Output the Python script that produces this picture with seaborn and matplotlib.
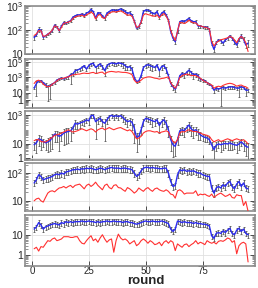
import numpy as np
import matplotlib
matplotlib.use("Agg")
import matplotlib.pyplot as plt
import matplotlib.ticker as mticker
import seaborn as sns

# ---- data ----
rounds = np.arange(1, 96)

p1_blue = [49, 63, 107, 100, 50, 58, 68, 79, 95, 162,
           138, 93, 148, 204, 191, 224, 245, 339, 389, 427,
           427, 468, 407, 501, 562, 724, 589, 309, 525, 501,
           389, 309, 500, 589, 676, 676, 646, 676, 759, 676,
           589, 500, 525, 427, 245, 120, 138, 224, 589, 676,
           676, 589, 500, 468, 589, 339, 500, 589, 427, 263,
           87, 46, 33, 87, 224, 245, 224, 263, 309, 245,
           224, 224, 148, 148, 138, 132, 132, 107, 29, 16,
           30, 39, 37, 29, 39, 46, 58, 46, 33, 24,
           42, 58, 42, 24, 29]
p1_red = [60, 70, 95, 95, 55, 58, 66, 80, 100, 150,
          140, 95, 130, 190, 200, 215, 230, 300, 350, 380,
          390, 420, 360, 430, 480, 560, 480, 290, 400, 450,
          330, 300, 420, 500, 560, 580, 560, 600, 620, 560,
          480, 420, 420, 380, 230, 130, 140, 210, 420, 480,
          440, 420, 380, 380, 430, 320, 420, 480, 380, 250,
          100, 55, 38, 90, 210, 200, 190, 210, 260, 220,
          200, 200, 160, 150, 140, 130, 125, 110, 35, 22,
          30, 35, 40, 42, 45, 48, 55, 50, 40, 30,
          45, 55, 45, 30, 13]
p1_cv = [0.2, 0.12, 0.25, 0.12, 0.12, 0.12, 0.1, 0.1, 0.12, 0.15,
         0.12, 0.1, 0.12, 0.12, 0.1, 0.1, 0.12, 0.12, 0.1, 0.12,
         0.1, 0.12, 0.15, 0.12, 0.1, 0.12, 0.1, 0.12, 0.12, 0.1,
         0.1, 0.12, 0.12, 0.1, 0.1, 0.1, 0.12, 0.1, 0.1, 0.1,
         0.12, 0.12, 0.15, 0.12, 0.1, 0.1, 0.1, 0.12, 0.12, 0.1,
         0.1, 0.12, 0.12, 0.15, 0.12, 0.12, 0.15, 0.12, 0.1, 0.12,
         0.15, 0.15, 0.2, 0.12, 0.1, 0.12, 0.12, 0.1, 0.12, 0.12,
         0.1, 0.12, 0.15, 0.15, 0.12, 0.12, 0.15, 0.15, 0.2, 0.2,
         0.15, 0.12, 0.2, 0.15, 0.12, 0.12, 0.12, 0.15, 0.2, 0.2,
         0.15, 0.15, 0.2, 0.25, 0.3]

p2_blue = [39, 160, 360, 360, 210, 107, 58, 78, 132, 210,
           450, 620, 830, 620, 1000, 1200, 2300, 2800, 7800, 9500,
           13000, 21000, 36000, 13000, 36000, 62000, 74000, 21000, 36000, 62000,
           27000, 7800, 36000, 62000, 83000, 74000, 62000, 83000, 74000, 62000,
           36000, 21000, 27000, 13000, 1000, 300, 360, 1700, 21000, 36000,
           49000, 36000, 27000, 21000, 45000, 7800, 27000, 36000, 13000, 1700,
           160, 58, 28, 160, 1700, 3500, 2300, 4700, 9500, 4700,
           2300, 2800, 1700, 620, 450, 360, 210, 132, 78, 21,
           39, 28, 39, 47, 39, 47, 58, 58, 47, 39,
           39, 58, 47, 21, 21]
p2_red = [160, 360, 440, 300, 130, 78, 58, 69, 130, 210,
          360, 600, 740, 810, 1000, 1200, 1700, 2300, 2300, 2800,
          2800, 3400, 3800, 3400, 3400, 4200, 4700, 3400, 3800, 4700,
          5100, 2800, 4700, 5800, 6300, 5800, 5100, 5800, 5100, 4700,
          4700, 4200, 3400, 2300, 440, 210, 260, 440, 810, 1000,
          1200, 1200, 1000, 810, 740, 600, 740, 810, 1000, 1200,
          210, 78, 38, 130, 1000, 1700, 2300, 2800, 2300, 1700,
          1900, 1700, 1200, 810, 440, 300, 210, 130, 105, 38,
          58, 70, 58, 90, 120, 150, 170, 150, 110, 70,
          90, 100, 70, 58, 38]
p2_cv = [0.3, 0.977, 0.3, 0.3, 0.3, 0.5, 0.987, 0.98, 0.3, 0.3,
         0.3, 0.3, 0.3, 0.3, 0.3, 0.5, 0.94, 0.5, 0.6, 0.5,
         0.5, 0.6, 0.4, 0.5, 0.5, 0.5, 0.4, 0.8, 0.5, 0.4,
         0.5, 0.78, 0.5, 0.4, 0.4, 0.5, 0.4, 0.4, 0.5, 0.7,
         0.7, 0.5, 0.6, 0.7, 0.3, 0.3, 0.3, 0.4, 0.5, 0.5,
         0.5, 0.7, 0.7, 0.5, 0.4, 0.8, 0.6, 0.5, 0.7, 0.5,
         0.5, 0.6, 0.5, 0.4, 0.4, 0.5, 0.6, 0.5, 0.7, 0.6,
         0.7, 0.6, 0.7, 0.4, 0.4, 0.3, 0.3, 0.3, 0.5, 0.6,
         0.4, 0.4, 0.995, 0.4, 0.4, 0.4, 0.4, 0.4, 0.4, 0.4,
         0.94, 0.4, 0.4, 0.82, 0.5]

p3_blue = [8.9, 12, 23, 20, 15, 12, 14, 17, 29, 49,
           44, 34, 40, 58, 68, 74, 83, 126, 280, 240,
           280, 330, 360, 480, 410, 950, 1000, 360, 480, 620,
           360, 280, 480, 810, 1000, 810, 950, 810, 950, 690,
           480, 360, 410, 330, 126, 29, 34, 98, 360, 620,
           560, 480, 410, 360, 480, 195, 360, 480, 280, 98,
           20, 8.9, 6.9, 20, 83, 98, 83, 140, 210, 115,
           83, 98, 68, 44, 34, 29, 26, 20, 8.9, 4.1,
           8.1, 10, 8.9, 10, 11, 10, 12, 10, 8.9, 8.1,
           10, 14, 10, 6.9, 5.9]
p3_red = [17, 20, 20, 15, 14, 14, 17, 23, 29, 40,
          44, 49, 58, 68, 83, 98, 83, 68, 74, 83,
          98, 115, 98, 83, 98, 115, 98, 68, 98, 115,
          130, 98, 115, 140, 115, 98, 115, 130, 140, 115,
          98, 83, 98, 74, 40, 23, 26, 34, 58, 74,
          83, 83, 74, 68, 74, 58, 68, 74, 83, 68,
          29, 15, 12, 20, 58, 74, 68, 83, 98, 83,
          74, 74, 68, 58, 49, 44, 40, 34, 20, 14,
          17, 20, 15, 17, 20, 23, 20, 17, 20, 23,
          20, 17, 20, 15, 10]
p3_cv = [0.6, 0.8, 0.7, 0.8, 0.6, 0.7, 0.8, 0.8, 0.85, 0.7,
         0.7, 0.9, 0.6, 0.85, 0.85, 0.85, 0.8, 0.5, 0.6, 0.5,
         0.5, 0.4, 0.5, 0.4, 0.5, 0.3, 0.3, 0.94, 0.5, 0.4,
         0.5, 0.94, 0.5, 0.4, 0.3, 0.4, 0.3, 0.4, 0.3, 0.5,
         0.5, 0.6, 0.5, 0.7, 0.9, 0.9, 0.7, 0.6, 0.5, 0.4,
         0.4, 0.5, 0.6, 0.5, 0.4, 0.7, 0.6, 0.5, 0.6, 0.7,
         0.85, 0.85, 0.8, 0.6, 0.5, 0.6, 0.6, 0.5, 0.6, 0.7,
         0.7, 0.6, 0.7, 0.6, 0.5, 0.5, 0.5, 0.5, 0.6, 0.88,
         0.6, 0.5, 0.7, 0.6, 0.5, 0.6, 0.7, 0.6, 0.5, 0.7,
         0.6, 0.5, 0.7, 0.8, 0.9]

p4_blue = [44, 57, 87, 76, 57, 62, 66, 70, 76, 87,
           92, 87, 100, 92, 109, 115, 121, 132, 132, 139,
           132, 144, 139, 150, 144, 150, 139, 132, 139, 150,
           144, 132, 144, 150, 160, 150, 150, 150, 144, 150,
           150, 144, 139, 132, 100, 76, 87, 121, 150, 160,
           160, 150, 160, 150, 150, 144, 144, 150, 150, 100,
           50, 33, 36, 87, 132, 121, 132, 115, 121, 115,
           121, 109, 100, 100, 87, 82, 76, 76, 29, 19,
           29, 33, 29, 38, 33, 44, 50, 33, 27, 40,
           50, 33, 44, 29, 27]
p4_red = [10, 11.8, 12.5, 10, 9.0, 13.2, 19, 22, 23, 21,
          25, 29, 30, 33, 29, 33, 36, 30, 36, 38,
          40, 33, 27, 36, 40, 33, 38, 47, 36, 30,
          25, 36, 40, 30, 27, 36, 38, 30, 29, 25,
          22, 30, 27, 23, 19, 22, 29, 25, 22, 27,
          30, 25, 22, 27, 29, 25, 23, 22, 25, 22,
          17.5, 16.6, 12.5, 23, 25, 22, 17.5, 19, 19, 19,
          19, 23, 15.5, 17.5, 16.6, 17.5, 15.5, 14.4, 17.5, 13.2,
          15.5, 17.5, 19, 16.6, 14.4, 15.5, 17.5, 13.2, 12.5, 16.6,
          15.5, 15.5, 6.8, 9.5, 4.2]
p4_cv = [0.25] * 95

p5_blue = [21, 27, 45, 34, 21, 27, 30, 34, 37, 40,
           37, 34, 45, 40, 50, 45, 50, 45, 50, 50,
           50, 54, 50, 50, 54, 50, 50, 45, 50, 45,
           50, 50, 54, 50, 50, 54, 50, 50, 50, 45,
           50, 50, 45, 45, 40, 37, 40, 45, 50, 54,
           50, 50, 54, 50, 50, 50, 54, 50, 45, 40,
           21, 16, 21, 54, 50, 45, 50, 45, 45, 45,
           40, 45, 40, 40, 37, 37, 34, 30, 9.6, 7.1,
           12.6, 14, 12.6, 17, 14, 18.5, 23, 12.6, 10.8, 18.5,
           23, 16, 21, 12.6, 10.8]
p5_red = [2.1, 2.5, 1.6, 2.7, 2.5, 3.7, 5.4, 5.0, 6.6, 7.4,
          5.4, 5.9, 6.6, 8.6, 8.6, 8.6, 7.9, 7.9, 8.6, 8.6,
          5.4, 4.0, 3.7, 5.4, 7.4, 9.6, 5.4, 6.6, 4.5, 7.4,
          10.8, 6.6, 4.5, 5.9, 6.6, 1.4, 5.4, 11.6, 7.4, 5.9,
          6.6, 5.4, 3.7, 4.5, 5.4, 3.0, 3.7, 5.4, 6.6, 5.4,
          4.0, 5.4, 4.5, 3.4, 3.7, 4.5, 3.0, 4.5, 5.4, 4.0,
          5.4, 4.5, 1.7, 3.7, 3.0, 2.5, 3.4, 3.7, 2.7, 3.4,
          4.0, 5.4, 3.7, 4.5, 4.0, 3.4, 5.4, 4.5, 4.0, 4.5,
          3.7, 5.0, 5.4, 5.0, 5.9, 7.4, 6.6, 4.5, 5.4, 1.17,
          3.0, 4.0, 4.5, 3.7, 0.45]
p5_cv = [0.3] * 95

panels = [
    (p1_blue, p1_red, p1_cv, (10, 1000), [10, 100, 1000]),
    (p2_blue, p2_red, p2_cv, (0.085, 2.5e5), [1, 10, 1e3, 1e5]),
    (p3_blue, p3_red, p3_cv, (0.8, 1900), [1, 10, 1e3]),
    (p4_blue, p4_red, p4_cv, (4.2, 230), [10, 100]),
    (p5_blue, p5_red, p5_cv, (0.28, 112), [1, 10]),
]
for b, r, c, _, _ in panels:
    assert len(b) == len(r) == len(c) == len(rounds)

# axes boxes in figure fraction (left, bottom, width, height)
boxes = [
    (0.097, 0.8115, 0.891, 0.1677),
    (0.097, 0.624, 0.891, 0.170),
    (0.097, 0.4455, 0.891, 0.168),
    (0.097, 0.2663, 0.891, 0.1677),
    (0.097, 0.0764, 0.891, 0.178),
]


def log_label(v, pos):
    e = int(round(np.log10(v)))
    if e == 0:
        return "1"
    if e == 1:
        return "10"
    return r"$10^{%d}$" % e


sns.set_style("white")
plt.rcParams["font.family"] = ["Liberation Sans", "DejaVu Sans"]
plt.rcParams["mathtext.default"] = "regular"

fig = plt.figure(figsize=(2.58, 2.88), dpi=100)

for i, ((blue, red, cv, ylim, yticks), box) in enumerate(zip(panels, boxes)):
    ax = fig.add_axes(box)
    blue = np.asarray(blue, dtype=float)
    cv = np.asarray(cv, dtype=float)
    ax.set_yscale("log")
    ax.errorbar(rounds, blue, yerr=[blue * cv, blue * cv], fmt="none",
                ecolor="0.25", elinewidth=0.5, capsize=1.0, capthick=0.5,
                zorder=2)
    sns.lineplot(x=rounds, y=blue, ax=ax, color="#2b2bf0", linewidth=1.0,
                 zorder=3)
    sns.lineplot(x=rounds, y=red, ax=ax, color="#ff3030", linewidth=0.8,
                 zorder=4)
    ax.set_xlim(-3, 98)
    ax.set_ylim(*ylim)
    ax.set_xticks([0, 25, 50, 75])
    ax.yaxis.set_major_locator(mticker.FixedLocator(yticks))
    ax.yaxis.set_major_formatter(mticker.FuncFormatter(log_label))
    ax.yaxis.set_minor_locator(mticker.LogLocator(base=10, subs=np.arange(2, 10), numticks=20))
    ax.yaxis.set_minor_formatter(mticker.NullFormatter())
    ax.grid(True, which="major", color="0.88", linewidth=0.6)
    ax.tick_params(axis="both", which="major", direction="in", length=3.5,
                   width=0.7, color="0.3", labelsize=7.5, pad=1.5,
                   left=True, right=True, bottom=True)
    ax.tick_params(axis="x", which="major", pad=0, labelsize=7)
    ax.tick_params(axis="y", which="minor", direction="in", length=2,
                   width=0.5, color="0.4", left=True, right=True)
    for s in ax.spines.values():
        s.set_color("0.55")
        s.set_linewidth(1.2)
    ax.set_ylabel("")
    if i < 4:
        ax.set_xticklabels([])
        ax.set_xlabel("")
    else:
        ax.set_xlabel("round", fontsize=9.5, fontweight="bold")
        ax.xaxis.set_label_coords(0.526, -0.185)

fig.savefig("out.png", dpi=100)
